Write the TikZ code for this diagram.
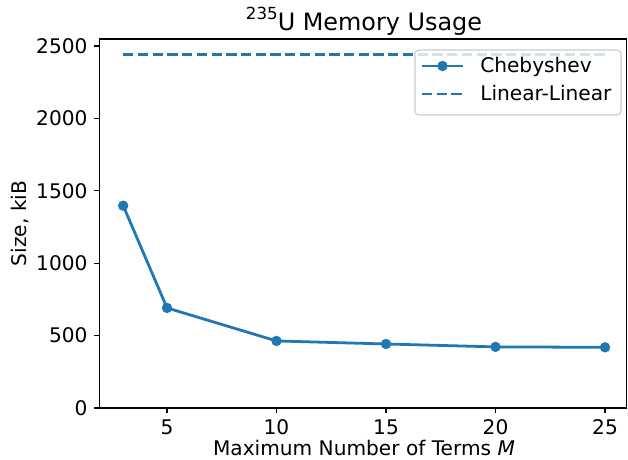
\documentclass[tikz,border=0pt]{standalone}
\usepackage{fontspec}
\setmainfont{DejaVu Sans}
\usetikzlibrary{positioning,calc}
\definecolor{mplblue}{HTML}{1F77B4}
\definecolor{legendedge}{RGB}{204,204,204}

\begin{document}
\begin{tikzpicture}[
        x=0.72pt, y=0.72pt,
        ticklabel/.style={inner sep=0pt, font=\fontsize{14.5}{17}\selectfont},
        axlabel/.style={inner sep=0pt, font=\fontsize{14.5}{17}\selectfont},
        series/.style={mplblue, line width=2pt, line join=round},
        reference/.style={mplblue, line width=2pt, dash pattern=on 7.4pt off 3.2pt},
        marker/.style={circle, fill=mplblue, inner sep=0pt, minimum size=7.5pt},
        spine/.style={line width=0.8pt},
        legendbox/.style={draw=legendedge, line width=0.8pt, fill=white, fill opacity=0.8, rounded corners=2.8pt}
    ]
    \useasboundingbox (0,0) rectangle (628,460);

    % Achsen in Dateneinheiten
    \begin{scope}[shift={(57.5,52)}, x=15.768pt, y=0.104256pt]
        \coordinate (origin) at (1.9,0);
        \coordinate (corner) at (26.0,2548);
        \draw[spine] (origin) rectangle (corner);

        % Ticks
        \foreach \t in {5,10,15,20,25} {
            \draw[spine] (\t,0) -- ++(0,-3.5pt) node[ticklabel, below=4.5pt] (xt\t) {\t};
        }
        \foreach \t in {0,500,1000,1500,2000,2500} {
            \draw[spine] (1.9,\t) -- ++(-3.5pt,0) node[ticklabel, left=4.5pt] (yt\t) {\t};
        }

        % Messdaten
        \foreach \m/\s [count=\i] in {3/1397,5/691,10/463,15/442,20/422,25/419} {
            \coordinate (c\i) at (\m,\s);
        }
        \coordinate (lin1) at (3,2441);
        \coordinate (lin2) at (25,2441);

        \draw[reference] (lin1) -- (lin2);
        \draw[series] (c1) \foreach \i in {2,...,6} { -- (c\i) };
        \foreach \i in {1,...,6} {
            \node[marker] (m\i) at (c\i) {};
        }
    \end{scope}

    % Legende
    \draw[legendbox] (415,345) rectangle (621,410);
    \coordinate (cheb1) at (422,394);
    \coordinate (cheb2) at (463,394);
    \draw[series] (cheb1) -- (cheb2);
    \node[marker] (lmark) at ($(cheb1)!0.5!(cheb2)$) {};
    \node[axlabel, anchor=base west] (lcheb) at (480,387) {Chebyshev};
    \coordinate (lin3) at (422,366);
    \coordinate (lin4) at (463,366);
    \draw[reference] (lin3) -- (lin4);
    \node[axlabel, anchor=base west] (llin) at (480,359) {Linear-Linear};

    % Beschriftungen
    \node[anchor=base, inner sep=0pt, font=\fontsize{17.2}{20}\selectfont] (title) at (364,429)
        {\raisebox{8pt}{\fontsize{12}{12}\selectfont 235}U Memory Usage};
    \node[axlabel, anchor=base] (xlabel) at (364,4) {Maximum Number of Terms \textit{M}};
    \node[axlabel, anchor=base, rotate=90] (ylabel) at (27,236.5) {Size, kiB};
\end{tikzpicture}
\end{document}
